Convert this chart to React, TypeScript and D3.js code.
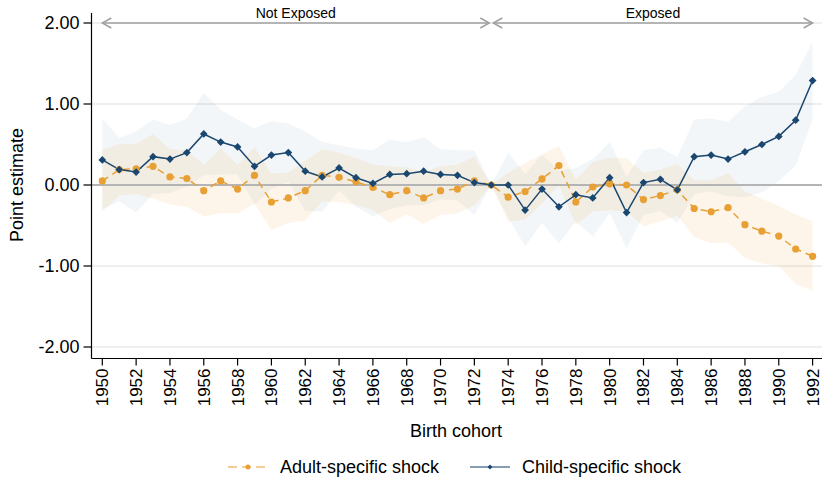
import React, { useEffect, useRef } from "react";
import * as d3 from "d3";

// Birth cohorts and event-study estimates
const years = [
  1950, 1951, 1952, 1953, 1954, 1955, 1956, 1957, 1958, 1959,
  1960, 1961, 1962, 1963, 1964, 1965, 1966, 1967, 1968, 1969,
  1970, 1971, 1972, 1973, 1974, 1975, 1976, 1977, 1978, 1979,
  1980, 1981, 1982, 1983, 1984, 1985, 1986, 1987, 1988, 1989,
  1990, 1991, 1992,
];

const childEst = [
  0.31, 0.19, 0.16, 0.35, 0.32, 0.4, 0.63, 0.53, 0.47, 0.23,
  0.37, 0.4, 0.17, 0.1, 0.21, 0.09, 0.02, 0.13, 0.14, 0.17,
  0.13, 0.12, 0.03, 0.0, 0.0, -0.31, -0.05, -0.27, -0.12, -0.16,
  0.09, -0.34, 0.03, 0.07, -0.06, 0.35, 0.37, 0.32, 0.41, 0.5,
  0.6, 0.8, 1.29,
];
const childHi = [
  0.82, 0.58, 0.66, 0.81, 0.74, 0.82, 1.14, 0.93, 0.81, 0.7,
  0.79, 0.76, 0.66, 0.53, 0.49, 0.45, 0.43, 0.56, 0.53, 0.59,
  0.44, 0.43, 0.43, 0.0, 0.4, 0.14, 0.37, 0.18, 0.21, 0.32,
  0.53, 0.1, 0.43, 0.46, 0.35, 0.81, 0.82, 0.78, 0.97, 1.09,
  1.15, 1.36, 1.77,
];
const childLo = [
  -0.3, -0.2, -0.34, -0.11, -0.1, -0.02, 0.12, 0.13, 0.13, -0.24,
  -0.05, 0.04, -0.32, -0.33, -0.07, -0.27, -0.39, -0.3, -0.25, -0.25,
  -0.18, -0.19, -0.37, 0.0, -0.4, -0.76, -0.47, -0.72, -0.45, -0.64,
  -0.35, -0.78, -0.37, -0.32, -0.47, -0.11, -0.08, -0.14, -0.15, -0.09,
  0.05, 0.24, 0.81,
];

const adultEst = [
  0.05, 0.19, 0.2, 0.23, 0.1, 0.08, -0.07, 0.05, -0.05, 0.12,
  -0.21, -0.16, -0.07, 0.12, 0.095, 0.04, -0.03, -0.12, -0.07, -0.16,
  -0.07, -0.05, 0.05, 0.0, -0.15, -0.08, 0.075, 0.24, -0.21, -0.025,
  0.015, 0.0, -0.18, -0.13, -0.06, -0.29, -0.33, -0.28, -0.49, -0.57,
  -0.63, -0.79, -0.88,
];
const adultHi = [
  0.43, 0.51, 0.51, 0.63, 0.44, 0.43, 0.25, 0.45, 0.25, 0.47,
  0.14, 0.15, 0.3, 0.44, 0.4, 0.33, 0.25, 0.23, 0.22, 0.16,
  0.23, 0.25, 0.35, 0.0, 0.15, 0.27, 0.38, 0.48, 0.07, 0.28,
  0.34, 0.33, 0.15, 0.19, 0.26, 0.06, 0.06, 0.15, -0.08, -0.17,
  -0.26, -0.36, -0.45,
];
const adultLo = [
  -0.33, -0.13, -0.11, -0.17, -0.24, -0.27, -0.39, -0.35, -0.35, -0.23,
  -0.56, -0.47, -0.44, -0.2, -0.21, -0.25, -0.31, -0.47, -0.36, -0.48,
  -0.37, -0.35, -0.25, 0.0, -0.45, -0.43, -0.23, 0.0, -0.49, -0.33,
  -0.31, -0.33, -0.51, -0.45, -0.38, -0.64, -0.72, -0.71, -0.9, -0.97,
  -1.0, -1.22, -1.31,
];

const yTicks = [2, 1, 0, -1, -2];
const xTicks = [
  1950, 1952, 1954, 1956, 1958, 1960, 1962, 1964, 1966, 1968, 1970,
  1972, 1974, 1976, 1978, 1980, 1982, 1984, 1986, 1988, 1990, 1992,
];
const periodLabels = ["Not Exposed", "Exposed"];
const periodStart = [1950, 1973];
const periodEnd = [1973, 1992];

const BLUE = "#1a476f";
const ORANGE = "#e8a035";
const FONT = "'Liberation Sans', Arial, Helvetica, sans-serif";

export default function App() {
  const svgRef = useRef<SVGSVGElement>(null);

  const width = 822;
  const height = 478;
  const axisX = 91.5;
  const axisY = 358.5;
  const plotRight = 822;

  useEffect(() => {
    const svg = d3.select(svgRef.current);
    svg.selectAll("*").remove();

    const x = d3.scaleLinear().domain([1950, 1992]).range([102.3, 812.6]);
    const y = d3.scaleLinear().domain([-2, 2]).range([347, 23]);

    // grid lines
    svg.append("g")
      .selectAll("line")
      .data(yTicks.filter((d) => d !== 0))
      .enter()
      .append("line")
      .attr("x1", axisX)
      .attr("x2", plotRight)
      .attr("y1", (d) => y(d))
      .attr("y2", (d) => y(d))
      .attr("stroke", "#eaeaea")
      .attr("stroke-width", 1.5);

    // confidence bands
    const band = (lo: number[], hi: number[]) =>
      d3.area<number>()
        .x((d) => x(d))
        .y0((d, i) => y(lo[i]))
        .y1((d, i) => y(hi[i]));

    svg.append("path")
      .attr("d", band(childLo, childHi)(years))
      .attr("fill", BLUE)
      .attr("fill-opacity", 0.05);

    svg.append("path")
      .attr("d", band(adultLo, adultHi)(years))
      .attr("fill", ORANGE)
      .attr("fill-opacity", 0.1);

    // zero line
    svg.append("line")
      .attr("x1", axisX)
      .attr("x2", plotRight)
      .attr("y1", y(0))
      .attr("y2", y(0))
      .attr("stroke", "#b4b4b4")
      .attr("stroke-width", 2);

    // period arrows
    const arrowY = y(2);
    periodLabels.forEach((label, i) => {
      const x0 = x(periodStart[i]) + (i === 0 ? 0 : 2);
      const x1 = x(periodEnd[i]) - (i === 0 ? 2 : 0);
      const g = svg.append("g").attr("stroke", "#a0a0a0").attr("fill", "none").attr("stroke-width", 1.5);
      g.append("line").attr("x1", x0).attr("x2", x1).attr("y1", arrowY).attr("y2", arrowY);
      g.append("path").attr("d", `M${x0 + 9},${arrowY - 5}L${x0},${arrowY}L${x0 + 9},${arrowY + 5}`);
      g.append("path").attr("d", `M${x1 - 9},${arrowY - 5}L${x1},${arrowY}L${x1 - 9},${arrowY + 5}`);
      svg.append("text")
        .attr("x", (x0 + x1) / 2)
        .attr("y", 18)
        .attr("text-anchor", "middle")
        .attr("font-family", FONT)
        .attr("font-size", 14)
        .attr("fill", "#000")
        .text(label);
    });

    // series lines
    const line = (vals: number[]) =>
      d3.line<number>().x((d) => x(d)).y((d, i) => y(vals[i]));

    svg.append("path")
      .attr("d", line(adultEst)(years))
      .attr("fill", "none")
      .attr("stroke", ORANGE)
      .attr("stroke-width", 1.5)
      .attr("stroke-dasharray", "7,5");

    svg.append("path")
      .attr("d", line(childEst)(years))
      .attr("fill", "none")
      .attr("stroke", BLUE)
      .attr("stroke-width", 1.5);

    // markers
    svg.append("g")
      .selectAll("circle")
      .data(years)
      .enter()
      .append("circle")
      .attr("cx", (d) => x(d))
      .attr("cy", (d, i) => y(adultEst[i]))
      .attr("r", 3.6)
      .attr("fill", ORANGE);

    const diamond = d3.symbol().type(d3.symbolSquare).size(30);
    svg.append("g")
      .selectAll("path")
      .data(years)
      .enter()
      .append("path")
      .attr("d", diamond() as string)
      .attr("transform", (d, i) => `translate(${x(d)},${y(childEst[i])}) rotate(45)`)
      .attr("fill", BLUE);

    // axes
    const axes = svg.append("g").attr("stroke", "#000").attr("stroke-width", 1.2);
    axes.append("line").attr("x1", axisX).attr("x2", axisX).attr("y1", 13).attr("y2", axisY);
    axes.append("line").attr("x1", axisX).attr("x2", plotRight).attr("y1", axisY).attr("y2", axisY);

    yTicks.forEach((t) => {
      axes.append("line").attr("x1", axisX - 8).attr("x2", axisX).attr("y1", y(t)).attr("y2", y(t));
      svg.append("text")
        .attr("x", axisX - 12)
        .attr("y", y(t))
        .attr("dy", "0.35em")
        .attr("text-anchor", "end")
        .attr("font-family", FONT)
        .attr("font-size", 18)
        .text(d3.format(".2f")(t).replace("\u2212", "-"));
    });

    xTicks.forEach((t) => {
      axes.append("line").attr("x1", x(t)).attr("x2", x(t)).attr("y1", axisY).attr("y2", axisY + 7);
      svg.append("text")
        .attr("transform", `translate(${x(t)},${axisY + 10}) rotate(-90)`)
        .attr("dy", "0.35em")
        .attr("text-anchor", "end")
        .attr("font-family", FONT)
        .attr("font-size", 17)
        .text(String(t));
    });

    // axis titles
    svg.append("text")
      .attr("x", 456)
      .attr("y", 437)
      .attr("text-anchor", "middle")
      .attr("font-family", FONT)
      .attr("font-size", 18)
      .text("Birth cohort");

    svg.append("text")
      .attr("transform", `translate(23,185) rotate(-90)`)
      .attr("text-anchor", "middle")
      .attr("font-family", FONT)
      .attr("font-size", 18)
      .text("Point estimate");

    // legend
    const legY = 467;
    const leg = svg.append("g");
    leg.append("line")
      .attr("x1", 228).attr("x2", 268).attr("y1", legY).attr("y2", legY)
      .attr("stroke", ORANGE).attr("stroke-opacity", 0.7).attr("stroke-width", 1.5)
      .attr("stroke-dasharray", "9,5");
    leg.append("circle").attr("cx", 248).attr("cy", legY).attr("r", 2.5).attr("fill", ORANGE);
    leg.append("text")
      .attr("x", 280).attr("y", legY).attr("dy", "0.35em")
      .attr("font-family", FONT).attr("font-size", 18)
      .text("Adult-specific shock");

    leg.append("line")
      .attr("x1", 470).attr("x2", 510).attr("y1", legY).attr("y2", legY)
      .attr("stroke", BLUE).attr("stroke-opacity", 0.7).attr("stroke-width", 1.5);
    leg.append("path")
      .attr("d", d3.symbol().type(d3.symbolSquare).size(12)() as string)
      .attr("transform", `translate(490,${legY}) rotate(45)`)
      .attr("fill", BLUE);
    leg.append("text")
      .attr("x", 522).attr("y", legY).attr("dy", "0.35em")
      .attr("font-family", FONT).attr("font-size", 18)
      .text("Child-specific shock");
  }, []);

  return (
    <svg
      ref={svgRef}
      width={width}
      height={height}
      style={{ position: "absolute", left: 0, top: 0, background: "#fff" }}
    />
  );
}
